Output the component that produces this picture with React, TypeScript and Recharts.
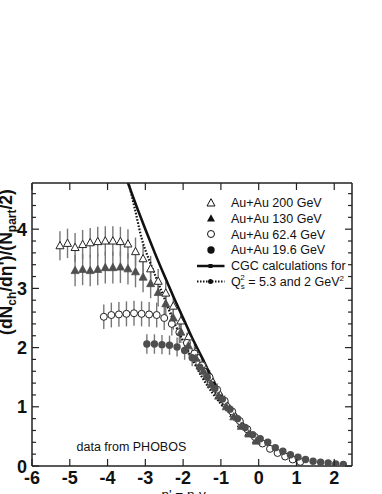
import { ComposedChart, Scatter, Line, XAxis, YAxis, ErrorBar } from "recharts";

// eta' = eta - y_beam, values (dNch/deta')/(Npart/2)
const eta200 = [-5.26, -5.06, -4.86, -4.66, -4.46, -4.26, -4.06, -3.86, -3.66, -3.46, -3.26, -3.06, -2.86, -2.66, -2.46, -2.26, -2.06, -1.86, -1.66, -1.46, -1.26, -1.06, -0.86, -0.66, -0.46, -0.26, -0.06];
const val200 = [3.72, 3.76, 3.69, 3.74, 3.77, 3.79, 3.8, 3.8, 3.79, 3.75, 3.62, 3.5, 3.33, 3.12, 2.92, 2.7, 2.45, 2.18, 1.93, 1.7, 1.47, 1.25, 1.06, 0.88, 0.71, 0.56, 0.44];

const eta130 = [-4.86, -4.66, -4.46, -4.26, -4.06, -3.86, -3.66, -3.46, -3.26, -3.06, -2.86, -2.66, -2.46, -2.26, -2.06, -1.86, -1.66, -1.46, -1.26, -1.06, -0.86, -0.66, -0.46, -0.26, -0.06];
const val130 = [3.3, 3.32, 3.3, 3.32, 3.35, 3.35, 3.36, 3.33, 3.28, 3.19, 3.08, 2.93, 2.74, 2.5, 2.26, 2.03, 1.82, 1.6, 1.38, 1.18, 1.0, 0.83, 0.67, 0.54, 0.42];

const eta62 = [-4.1, -3.9, -3.7, -3.5, -3.3, -3.1, -2.9, -2.7, -2.5, -2.3, -2.1, -1.9, -1.7, -1.5, -1.3, -1.1, -0.9, -0.7, -0.5, -0.3, -0.1, 0.1, 0.3, 0.5, 0.7, 0.9, 1.1];
const val62 = [2.52, 2.55, 2.56, 2.57, 2.58, 2.57, 2.56, 2.55, 2.5, 2.4, 2.26, 2.08, 1.9, 1.7, 1.5, 1.29, 1.1, 0.92, 0.76, 0.62, 0.49, 0.38, 0.29, 0.22, 0.16, 0.11, 0.07];

const eta19 = [-2.96, -2.76, -2.56, -2.36, -2.16, -1.96, -1.76, -1.56, -1.36, -1.16, -0.96, -0.76, -0.56, -0.36, -0.16, 0.04, 0.24, 0.44, 0.64, 0.84, 1.04, 1.24, 1.44, 1.64, 1.84, 2.04, 2.24];
const val19 = [2.06, 2.06, 2.05, 2.04, 2.01, 1.95, 1.83, 1.67, 1.5, 1.31, 1.13, 0.96, 0.8, 0.65, 0.53, 0.46, 0.4, 0.31, 0.25, 0.19, 0.15, 0.11, 0.08, 0.065, 0.05, 0.035, 0.025];

// CGC curves
const cgcEta = [-3.47, -3.2, -3.0, -2.75, -2.5, -2.25, -2.0, -1.75, -1.5, -1.25, -1.0, -0.75, -0.5, -0.25, 0];
const cgcVal = [4.8, 4.33, 4.0, 3.6, 3.22, 2.85, 2.5, 2.15, 1.83, 1.5, 1.2, 0.98, 0.78, 0.58, 0.38];
const cgc2Eta = [-3.45, -3.28, -3.1, -2.85, -2.6, -2.26, -1.91, -1.5, -1.0, -0.45];
const cgc2Val = [4.8, 4.35, 3.85, 3.4, 3.0, 2.46, 2.0, 1.5, 1.05, 0.72];

// relative systematic errors per energy
const rel200 = 0.066;
const rel130 = 0.08;
const rel62 = 0.082;
const rel19 = 0.08;

const xTicks = [-6, -5, -4, -3, -2, -1, 0, 1, 2];
const yTicks = [0, 0.2, 0.4, 0.6, 0.8, 1, 1.2, 1.4, 1.6, 1.8, 2, 2.2, 2.4, 2.6, 2.8, 3, 3.2, 3.4, 3.6, 3.8, 4, 4.2, 4.4, 4.6];

const pts = (xs: number[], ys: number[], rel: number) => xs.map((x, i) => ({ x, y: ys[i], e: ys[i] * rel }));
const curve = (xs: number[], ys: number[]) => xs.map((x, i) => ({ x, y: ys[i] }));

const FONT = "'Liberation Sans', Arial, Helvetica, sans-serif";
const AX = "#222";
const GRAY = "#4e4e4e";

const isMajor = (v: number) => Math.abs(v - Math.round(v)) < 1e-6;

const triPath = (cx: number, cy: number) => `M${cx},${cy - 4.3}L${cx + 4},${cy + 3}L${cx - 4},${cy + 3}Z`;

const OpenTri = (p: any) => <path d={triPath(p.cx, p.cy)} fill="#fff" stroke="#222" strokeWidth={1} />;
const FillTri = (p: any) => <path d={triPath(p.cx, p.cy)} fill={GRAY} stroke={GRAY} strokeWidth={0.8} />;
const OpenCirc = (p: any) => <circle cx={p.cx} cy={p.cy} r={3.5} fill="#fff" stroke="#222" strokeWidth={1} />;
const FillCirc = (p: any) => <circle cx={p.cx} cy={p.cy} r={3.7} fill={GRAY} />;

const LeftTick = (p: any) => {
	const v = p.payload.value;
	const major = isMajor(v);
	return (
		<g>
			<line x1={p.x} x2={p.x + (major ? 7 : 4)} y1={p.y} y2={p.y} stroke={AX} strokeWidth={1.2} />
			{major && (
				<text x={p.x - 5} y={p.y + 6.5} textAnchor="end" fontSize={18} fontWeight="bold" fill="#111" fontFamily={FONT}>
					{Math.round(v)}
				</text>
			)}
		</g>
	);
};

const RightTick = (p: any) => {
	const major = isMajor(p.payload.value);
	return <line x1={p.x} x2={p.x - (major ? 7 : 4)} y1={p.y} y2={p.y} stroke={AX} strokeWidth={1.2} />;
};

const BottomTick = (p: any) => (
	<g>
		<line x1={p.x} x2={p.x} y1={p.y} y2={p.y - 7} stroke={AX} strokeWidth={1.2} />
		<text x={p.x} y={p.y + 17.5} textAnchor="middle" fontSize={18} fontWeight="bold" fill="#111" fontFamily={FONT}>
			{p.payload.value}
		</text>
	</g>
);

const TopTick = (p: any) => <line x1={p.x} x2={p.x} y1={p.y} y2={p.y + 7} stroke={AX} strokeWidth={1.2} />;

function Overlay() {
	const lx = 211;
	const tx = 231;
	return (
		<svg width={382} height={494} style={{ position: "absolute", left: 0, top: 0, pointerEvents: "none" }} fontFamily={FONT}>
			{/* y title, partly past the left edge as in the original */}
			<text transform="translate(11.5,262) rotate(-90)" textAnchor="middle" fontSize={17.5} fontWeight="bold" fill="#111">
				(dN<tspan dy={4} fontSize={12}>ch</tspan>
				<tspan dy={-4}>/dη')/(N</tspan>
				<tspan dy={4} fontSize={12}>part</tspan>
				<tspan dy={-4}>/2)</tspan>
			</text>
			{/* x title, mostly below the page edge */}
			<text x={161.5} y={499} fontSize={13.5} fill="#111">
				η' = η-y
			</text>
			<text x={76.5} y={450.5} fontSize={12.5} fill="#111">
				data from PHOBOS
			</text>
			{/* legend */}
			<path d={triPath(lx, 203)} fill="#fff" stroke="#111" strokeWidth={1} />
			<text x={tx} y={207.3} fontSize={12.5} fill="#111">Au+Au 200 GeV</text>
			<path d={triPath(lx, 218.5)} fill="#111" />
			<text x={tx} y={222.8} fontSize={12.5} fill="#111">Au+Au 130 GeV</text>
			<circle cx={lx} cy={234} r={3.5} fill="#fff" stroke="#111" strokeWidth={1} />
			<text x={tx} y={238.5} fontSize={12.5} fill="#111">Au+Au 62.4 GeV</text>
			<circle cx={lx} cy={250} r={3.7} fill="#111" />
			<text x={tx} y={254.2} fontSize={12.5} fill="#111">Au+Au 19.6 GeV</text>
			<line x1={197} x2={224.5} y1={266} y2={266} stroke="#111" strokeWidth={2.5} />
			<rect x={208.5} y={264} width={4} height={4} fill="#111" />
			<text x={tx} y={270} fontSize={12.5} fill="#111">CGC calculations for</text>
			<line x1={197} x2={224.5} y1={281.5} y2={281.5} stroke="#111" strokeWidth={2} strokeDasharray="1.5 1.5" />
			<circle cx={210.5} cy={281.5} r={2.5} fill="#111" />
			<text x={tx} y={285.5} fontSize={12.5} fill="#111">
				Q<tspan fontSize={8} dy={3}>s</tspan>
				<tspan fontSize={8} dx={-4.5} dy={-9}>2</tspan>
				<tspan dy={6}> = 5.3 and 2 GeV</tspan>
				<tspan fontSize={8} dy={-5}>2</tspan>
			</text>
		</svg>
	);
}

export default function App() {
	return (
		<div style={{ position: "relative", width: 382, height: 494, overflow: "hidden", background: "#fff" }}>
			<style>{"body{margin:0;overflow:hidden}"}</style>
			<ComposedChart width={382} height={494} margin={{ top: 182, right: 29, left: 0, bottom: 0 }}>
				<XAxis
					dataKey="x"
					type="number"
					domain={[-6, 2.47]}
					ticks={xTicks}
					interval={0}
					allowDataOverflow
					height={28}
					tickSize={0}
					tickMargin={0}
					tickLine={false}
					tick={BottomTick}
					axisLine={{ stroke: AX, strokeWidth: 1.5 }}
				/>
				<XAxis
					xAxisId="top"
					orientation="top"
					dataKey="x"
					type="number"
					domain={[-6, 2.47]}
					ticks={xTicks}
					interval={0}
					allowDataOverflow
					height={1}
					tickSize={0}
					tickMargin={0}
					tickLine={false}
					tick={TopTick}
					axisLine={{ stroke: AX, strokeWidth: 1.5 }}
				/>
				<YAxis
					dataKey="y"
					type="number"
					domain={[0, 4.78]}
					ticks={yTicks}
					interval={0}
					allowDataOverflow
					width={32}
					tickSize={0}
					tickMargin={0}
					tickLine={false}
					tick={LeftTick}
					axisLine={{ stroke: AX, strokeWidth: 1.5 }}
				/>
				<YAxis
					yAxisId="right"
					orientation="right"
					dataKey="y"
					type="number"
					domain={[0, 4.78]}
					ticks={yTicks}
					interval={0}
					allowDataOverflow
					width={1}
					tickSize={0}
					tickMargin={0}
					tickLine={false}
					tick={RightTick}
					axisLine={{ stroke: AX, strokeWidth: 1.5 }}
				/>
				<Scatter data={pts(eta200, val200, rel200)} dataKey="y" shape={OpenTri} isAnimationActive={false}>
					<ErrorBar dataKey="e" direction="y" width={0} stroke="#777" strokeWidth={1.4} />
				</Scatter>
				<Scatter data={pts(eta62, val62, rel62)} dataKey="y" shape={OpenCirc} isAnimationActive={false}>
					<ErrorBar dataKey="e" direction="y" width={0} stroke="#777" strokeWidth={1.4} />
				</Scatter>
				<Scatter data={pts(eta130, val130, rel130)} dataKey="y" shape={FillTri} isAnimationActive={false}>
					<ErrorBar dataKey="e" direction="y" width={0} stroke="#777" strokeWidth={1.4} />
				</Scatter>
				<Scatter data={pts(eta19, val19, rel19)} dataKey="y" shape={FillCirc} isAnimationActive={false}>
					<ErrorBar dataKey="e" direction="y" width={0} stroke="#777" strokeWidth={1.4} />
				</Scatter>
				<Line data={curve(cgc2Eta, cgc2Val)} dataKey="y" type="monotone" stroke="#111" strokeWidth={2.2} strokeDasharray="1.6 1.6" dot={false} isAnimationActive={false} />
				{/* same domains as the main axes; bound to top/right so that the frame axes are drawn */}
				<Line data={curve(cgcEta, cgcVal)} dataKey="y" xAxisId="top" yAxisId="right" type="monotone" stroke="#111" strokeWidth={2.6} dot={false} isAnimationActive={false} />
			</ComposedChart>
			<Overlay />
		</div>
	);
}
